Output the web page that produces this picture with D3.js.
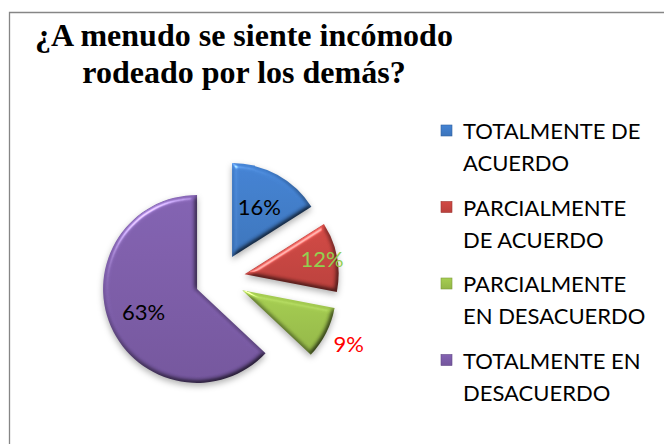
<!DOCTYPE html>
<html lang="es">
<head>
  <meta charset="UTF-8">
  <title>Pie</title>
  <script src="https://d3js.org/d3.v7.min.js"></script>
  <style>
    html, body { margin: 0; padding: 0; background: #fff; }
    svg { display: block; }
  </style>
</head>
<body>
<svg></svg>
<script>
  // datos del gráfico
  const titleLines = ['¿A menudo se siente incómodo', 'rodeado por los demás?']
  const categories = [
    ['TOTALMENTE DE', 'ACUERDO'],
    ['PARCIALMENTE', 'DE ACUERDO'],
    ['PARCIALMENTE', 'EN DESACUERDO'],
    ['TOTALMENTE EN', 'DESACUERDO']
  ]
  const values = [16, 12, 9, 63]

  // estilos (colores de relleno y de etiqueta)
  const sliceColors = ['#3f7ac5', '#c4443f', '#9bc04b', '#7a5ba6']
  const labelColors = ['#000000', '#92d050', '#ff0000', '#000000']
  const labelRadius = [0.6, 0.84, 1.27, 0.62] // posición relativa de la etiqueta

  const titleFont = 'Liberation Serif'
  const bodyFont = 'Lato'

  const width = 664
  const height = 444
  const cx = 220, cy = 279
  const radius = 94
  const explode = 25

  const svg = d3.select('svg')
    .attr('width', width)
    .attr('height', height)

  const defs = svg.append('defs')

  // sombra suave
  const shadow = defs.append('filter').attr('id', 'shadow')
    .attr('x', '-20%').attr('y', '-20%').attr('width', '140%').attr('height', '140%')
    .attr('color-interpolation-filters', 'sRGB')
  shadow.append('feDropShadow')
    .attr('dx', 0).attr('dy', 3).attr('stdDeviation', 3)
    .attr('flood-color', '#000').attr('flood-opacity', 0.3)

  // bisel tipo Excel: sombreado difuso + brillo especular en los bordes
  const bevel = defs.append('filter').attr('id', 'bevel')
    .attr('color-interpolation-filters', 'sRGB')
  bevel.append('feGaussianBlur').attr('in', 'SourceAlpha').attr('stdDeviation', 2.5).attr('result', 'blur')
  const diff = bevel.append('feDiffuseLighting')
    .attr('in', 'blur').attr('surfaceScale', 3).attr('diffuseConstant', 1.13)
    .attr('lighting-color', '#ffffff').attr('result', 'diff')
  diff.append('feDistantLight').attr('azimuth', 235).attr('elevation', 62)
  bevel.append('feComposite').attr('in', 'SourceGraphic').attr('in2', 'diff')
    .attr('operator', 'arithmetic').attr('k1', 1).attr('k2', 0).attr('k3', 0).attr('k4', 0).attr('result', 'shaded')
  const spec = bevel.append('feSpecularLighting')
    .attr('in', 'blur').attr('surfaceScale', 3).attr('specularConstant', 0.45)
    .attr('specularExponent', 40).attr('lighting-color', '#ffffff').attr('result', 'spec')
  spec.append('feDistantLight').attr('azimuth', 235).attr('elevation', 40)
  bevel.append('feComposite').attr('in', 'spec').attr('in2', 'SourceAlpha').attr('operator', 'in').attr('result', 'specOut')
  bevel.append('feComposite').attr('in', 'shaded').attr('in2', 'specOut')
    .attr('operator', 'arithmetic').attr('k1', 0).attr('k2', 1).attr('k3', 1).attr('k4', 0)

  sliceColors.forEach(function (c, i) {
    const grad = defs.append('linearGradient').attr('id', 'grad' + i)
      .attr('x1', 0).attr('y1', 0).attr('x2', 0).attr('y2', 1)
    grad.append('stop').attr('offset', '0%').attr('stop-color', d3.color(c).brighter(0.2))
    grad.append('stop').attr('offset', '100%').attr('stop-color', d3.color(c).darker(0.15))
  })

  // marco
  svg.append('path')
    .attr('d', `M9.5,${height} V12.5 H${width}`)
    .attr('fill', 'none')
    .attr('stroke', '#868686')
    .attr('stroke-width', 1.3)

  // título
  svg.append('g')
    .selectAll('text')
    .data(titleLines)
    .join('text')
    .attr('x', 244)
    .attr('y', (d, i) => 46 + i * 37)
    .attr('text-anchor', 'middle')
    .attr('font-family', titleFont)
    .attr('font-weight', 'bold')
    .attr('font-size', 32)
    .text(d => d)

  const pie = d3.pie().sort(null).value(d => d)
  const arcs = pie(values)
  const arc = d3.arc().innerRadius(0).outerRadius(radius)

  const offset = function (d, r) {
    const a = (d.startAngle + d.endAngle) / 2
    return [Math.sin(a) * r, -Math.cos(a) * r]
  }

  const g = svg.append('g')
    .attr('transform', `translate(${cx}, ${cy})`)
    .attr('filter', 'url(#shadow)')

  g.selectAll('path')
    .data(arcs)
    .join('path')
    .attr('d', arc)
    .attr('transform', d => `translate(${offset(d, explode)})`)
    .attr('fill', (d, i) => `url(#grad${i})`)
    .attr('filter', 'url(#bevel)')

  // etiquetas de porcentaje
  svg.append('g')
    .attr('transform', `translate(${cx}, ${cy})`)
    .selectAll('text')
    .data(arcs)
    .join('text')
    .attr('transform', function (d, i) {
      const o = offset(d, explode)
      const p = offset(d, radius * labelRadius[i])
      return `translate(${o[0] + p[0]}, ${o[1] + p[1]})`
    })
    .attr('text-anchor', 'middle')
    .attr('dy', '0.35em')
    .attr('font-family', bodyFont)
    .attr('font-size', 22)
    .attr('fill', (d, i) => labelColors[i])
    .text(d => d.data + '%')

  // leyenda
  const legend = svg.append('g')
    .attr('transform', 'translate(441, 0)')

  const item = legend.selectAll('g')
    .data(categories)
    .join('g')
    .attr('transform', (d, i) => `translate(0, ${139 + i * 76.5})`)

  item.append('rect')
    .attr('x', 0)
    .attr('y', -14)
    .attr('width', 11)
    .attr('height', 11)
    .attr('fill', (d, i) => `url(#grad${i})`)
    .attr('stroke', (d, i) => d3.color(sliceColors[i]).darker(0.6))
    .attr('stroke-width', 0.6)

  item.selectAll('text')
    .data(d => d)
    .join('text')
    .attr('x', 22)
    .attr('y', (d, i) => i * 32)
    .attr('font-family', bodyFont)
    .attr('font-size', 22)
    .attr('fill', '#000')
    .text(d => d)
</script>
</body>
</html>
